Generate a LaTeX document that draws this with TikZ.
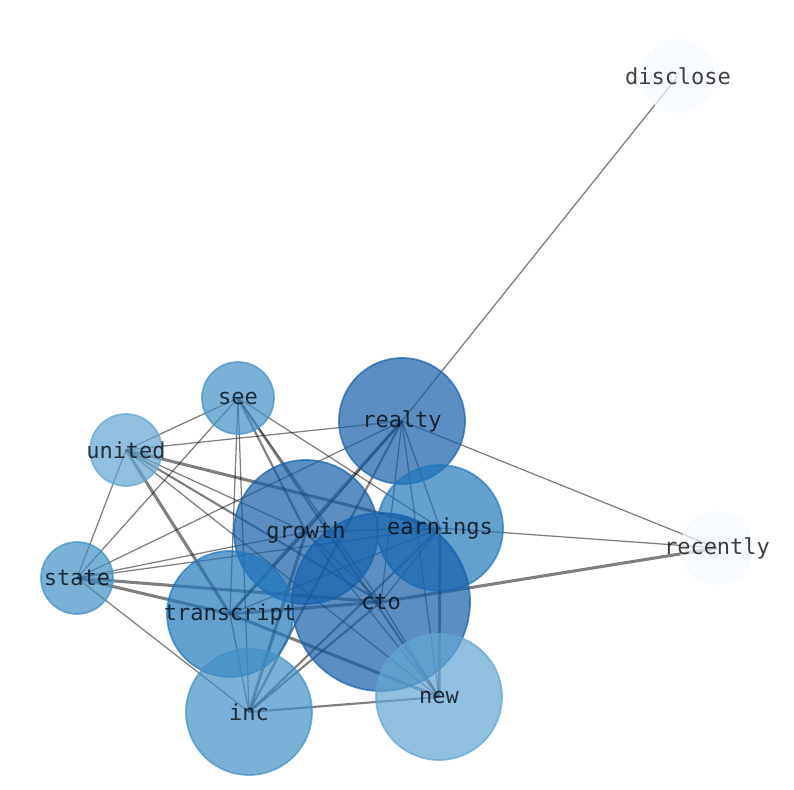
\documentclass[tikz,border=0pt]{standalone}
\usepackage{fontspec}
\newfontfamily\labfont{DejaVu Sans Mono}
\pgfdeclarelayer{bg}
\pgfsetlayers{bg,main}
\definecolor{cA}{RGB}{21,96,171}
\definecolor{cB}{RGB}{32,119,188}
\definecolor{cC}{RGB}{65,144,198}
\definecolor{cD}{RGB}{97,165,211}
\definecolor{cE}{RGB}{245,250,255}
\begin{document}
\begin{tikzpicture}[x=0.75pt,y=-0.75pt,
  nd/.style={circle, inner sep=0pt, fill=#1, draw=#1, fill opacity=0.7, draw opacity=0.7, line width=1.3pt},
  sm/.style={nd=#1, minimum size=54pt},
  md/.style={nd=#1, minimum size=94.5pt},
  lg/.style={nd=#1, minimum size=108pt},
  xl/.style={nd=#1, minimum size=133.5pt},
  lab/.style={inner sep=0pt, text=black, text opacity=0.75, font=\labfont\fontsize{16.5}{18}\selectfont},
  et/.style={draw=black, draw opacity=0.5, line width=0.95pt},
  em/.style={draw=black, draw opacity=0.5, line width=1.6pt},
  ek/.style={draw=black, draw opacity=0.5, line width=2.3pt}]
\useasboundingbox (0,0) rectangle (794,790);
% circles
\node[sm=cE] (disclose) at (678,76) {};
\node[sm=cE] (recently) at (717,548) {};
\node[sm=cC] (see) at (238,398) {};
\node[sm=cD] (united) at (126,450) {};
\node[sm=cC] (state) at (77,578) {};
\node[md=cA] (realty) at (402,421) {};
\node[lg=cA] (growth) at (306,532) {};
\node[md=cB] (earnings) at (440,528) {};
\node[md=cB] (transcript) at (230,614) {};
\node[xl=cA] (cto) at (381,602) {};
\node[md=cC] (inc) at (249,712) {};
\node[md=cD] (new) at (439,697) {};
% labels
\node[lab] (disclose-l) at (disclose.center) {disclose};
\node[lab] (recently-l) at (recently.center) {recently};
\node[lab] (see-l) at (see.center) {see};
\node[lab] (united-l) at (united.center) {united};
\node[lab] (state-l) at (state.center) {state};
\node[lab] (realty-l) at (realty.center) {realty};
\node[lab] (growth-l) at (growth.center) {growth};
\node[lab] (earnings-l) at (earnings.center) {earnings};
\node[lab] (transcript-l) at (transcript.center) {transcript};
\node[lab] (cto-l) at (cto.center) {cto};
\node[lab] (inc-l) at (inc.center) {inc};
\node[lab] (new-l) at (new.center) {new};
% edges
\begin{pgfonlayer}{bg}
\draw[et] (disclose.center) -- (realty.center);
\draw[et] (recently.center) -- (realty.center);
\draw[et] (recently.center) -- (earnings.center);
\draw[ek] (recently.center) -- (cto.center);
\draw[et] (see.center) -- (united.center);
\draw[et] (see.center) -- (state.center);
\draw[et] (see.center) -- (transcript.center);
\draw[et] (see.center) -- (inc.center);
\draw[et] (see.center) -- (earnings.center);
\draw[em] (see.center) -- (growth.center);
\draw[et] (see.center) -- (cto.center);
\draw[em] (see.center) -- (new.center);
\draw[et] (united.center) -- (realty.center);
\draw[et] (united.center) -- (state.center);
\draw[ek] (united.center) -- (earnings.center);
\draw[et] (united.center) -- (growth.center);
\draw[em] (united.center) -- (cto.center);
\draw[et] (united.center) -- (new.center);
\draw[ek] (united.center) -- (transcript.center);
\draw[et] (state.center) -- (realty.center);
\draw[et] (state.center) -- (growth.center);
\draw[et] (state.center) -- (earnings.center);
\draw[ek] (state.center) -- (cto.center);
\draw[ek] (state.center) -- (transcript.center);
\draw[et] (state.center) -- (inc.center);
\draw[et] (realty.center) -- (growth.center);
\draw[ek] (realty.center) -- (transcript.center);
\draw[em] (realty.center) -- (inc.center);
\draw[et] (realty.center) -- (cto.center);
\draw[et] (realty.center) -- (earnings.center);
\draw[et] (realty.center) -- (new.center);
\draw[et] (growth.center) -- (earnings.center);
\draw[et] (growth.center) -- (cto.center);
\draw[ek] (growth.center) -- (inc.center);
\draw[et] (growth.center) -- (new.center);
\draw[et] (growth.center) -- (transcript.center);
\draw[et] (earnings.center) -- (cto.center);
\draw[et] (earnings.center) -- (transcript.center);
\draw[em] (earnings.center) -- (inc.center);
\draw[ek] (earnings.center) -- (new.center);
\draw[ek] (cto.center) -- (transcript.center);
\draw[em] (cto.center) -- (inc.center);
\draw[et] (cto.center) -- (new.center);
\draw[ek] (transcript.center) -- (new.center);
\draw[et] (transcript.center) -- (inc.center);
\draw[em] (inc.center) -- (new.center);
\end{pgfonlayer}
\end{tikzpicture}
\end{document}
